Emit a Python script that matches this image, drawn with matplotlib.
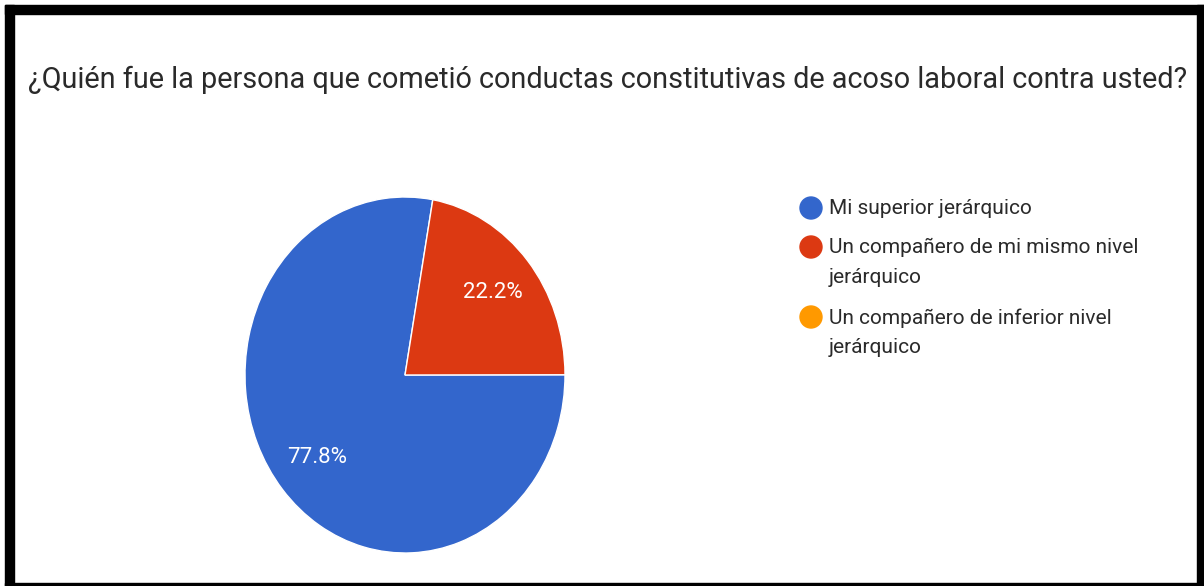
import matplotlib.pyplot as plt
from matplotlib.patches import Ellipse, Rectangle
from matplotlib.transforms import IdentityTransform

plt.rcParams['font.family'] = ['Roboto', 'DejaVu Sans']

title = "¿Quién fue la persona que cometió conductas constitutivas de acoso laboral contra usted?"
labels = ["Mi superior jerárquico",
          "Un compañero de mi mismo nivel\njerárquico",
          "Un compañero de inferior nivel\njerárquico"]
values = [77.8, 22.2, 0.0]
colors = ["#3366cc", "#dc3912", "#ff9900"]

W, H = 1204, 586
fig = plt.figure(figsize=(W / 100, H / 100), dpi=100)
fig.patch.set_facecolor("white")

# black frame of the screenshot
for (x0, y0, w, h) in [(5, 5, W - 5, 9), (5, 5, 9, H - 5), (W - 7, 5, 7, H - 5), (5, H - 3, W - 5, 3)]:
    fig.add_artist(Rectangle((x0 / W, 1 - (y0 + h) / H), w / W, h / H,
                             transform=fig.transFigure, color="black", zorder=10))

fig.text(28 / W, 1 - 80 / H, title, fontsize=20.75, color="#2a2a2a",
         ha="left", va="center")

# pie (screenshot is slightly stretched vertically)
cx, cy, rx, ry = 405, 375, 160, 178
ax = fig.add_axes([(cx - rx) / W, (H - cy - ry) / H, 2 * rx / W, 2 * ry / H])
nz = [(v, c) for v, c in zip(values, colors) if v > 0]
wedges, texts, autotexts = ax.pie([v for v, c in nz], colors=[c for v, c in nz],
                                  startangle=80, counterclock=True,
                                  autopct="%.1f%%", pctdistance=0.72,
                                  wedgeprops=dict(edgecolor="white", linewidth=1),
                                  textprops=dict(color="white", fontsize=16))
ax.set_xlim(-1, 1)
ax.set_ylim(-1, 1)
ax.set_aspect("auto")
ax.axis("off")

# legend
ys = [208, 247, 317]
for lab, col, y in zip(labels, colors, ys):
    fig.add_artist(Ellipse((811, H - y), 22, 22, transform=IdentityTransform(),
                           color=col))
    fig.text(829 / W, 1 - (y - 9) / H, lab, fontsize=15, color="#2a2a2a",
             ha="left", va="top", linespacing=1.72)

fig.savefig("out.png", dpi=100)
